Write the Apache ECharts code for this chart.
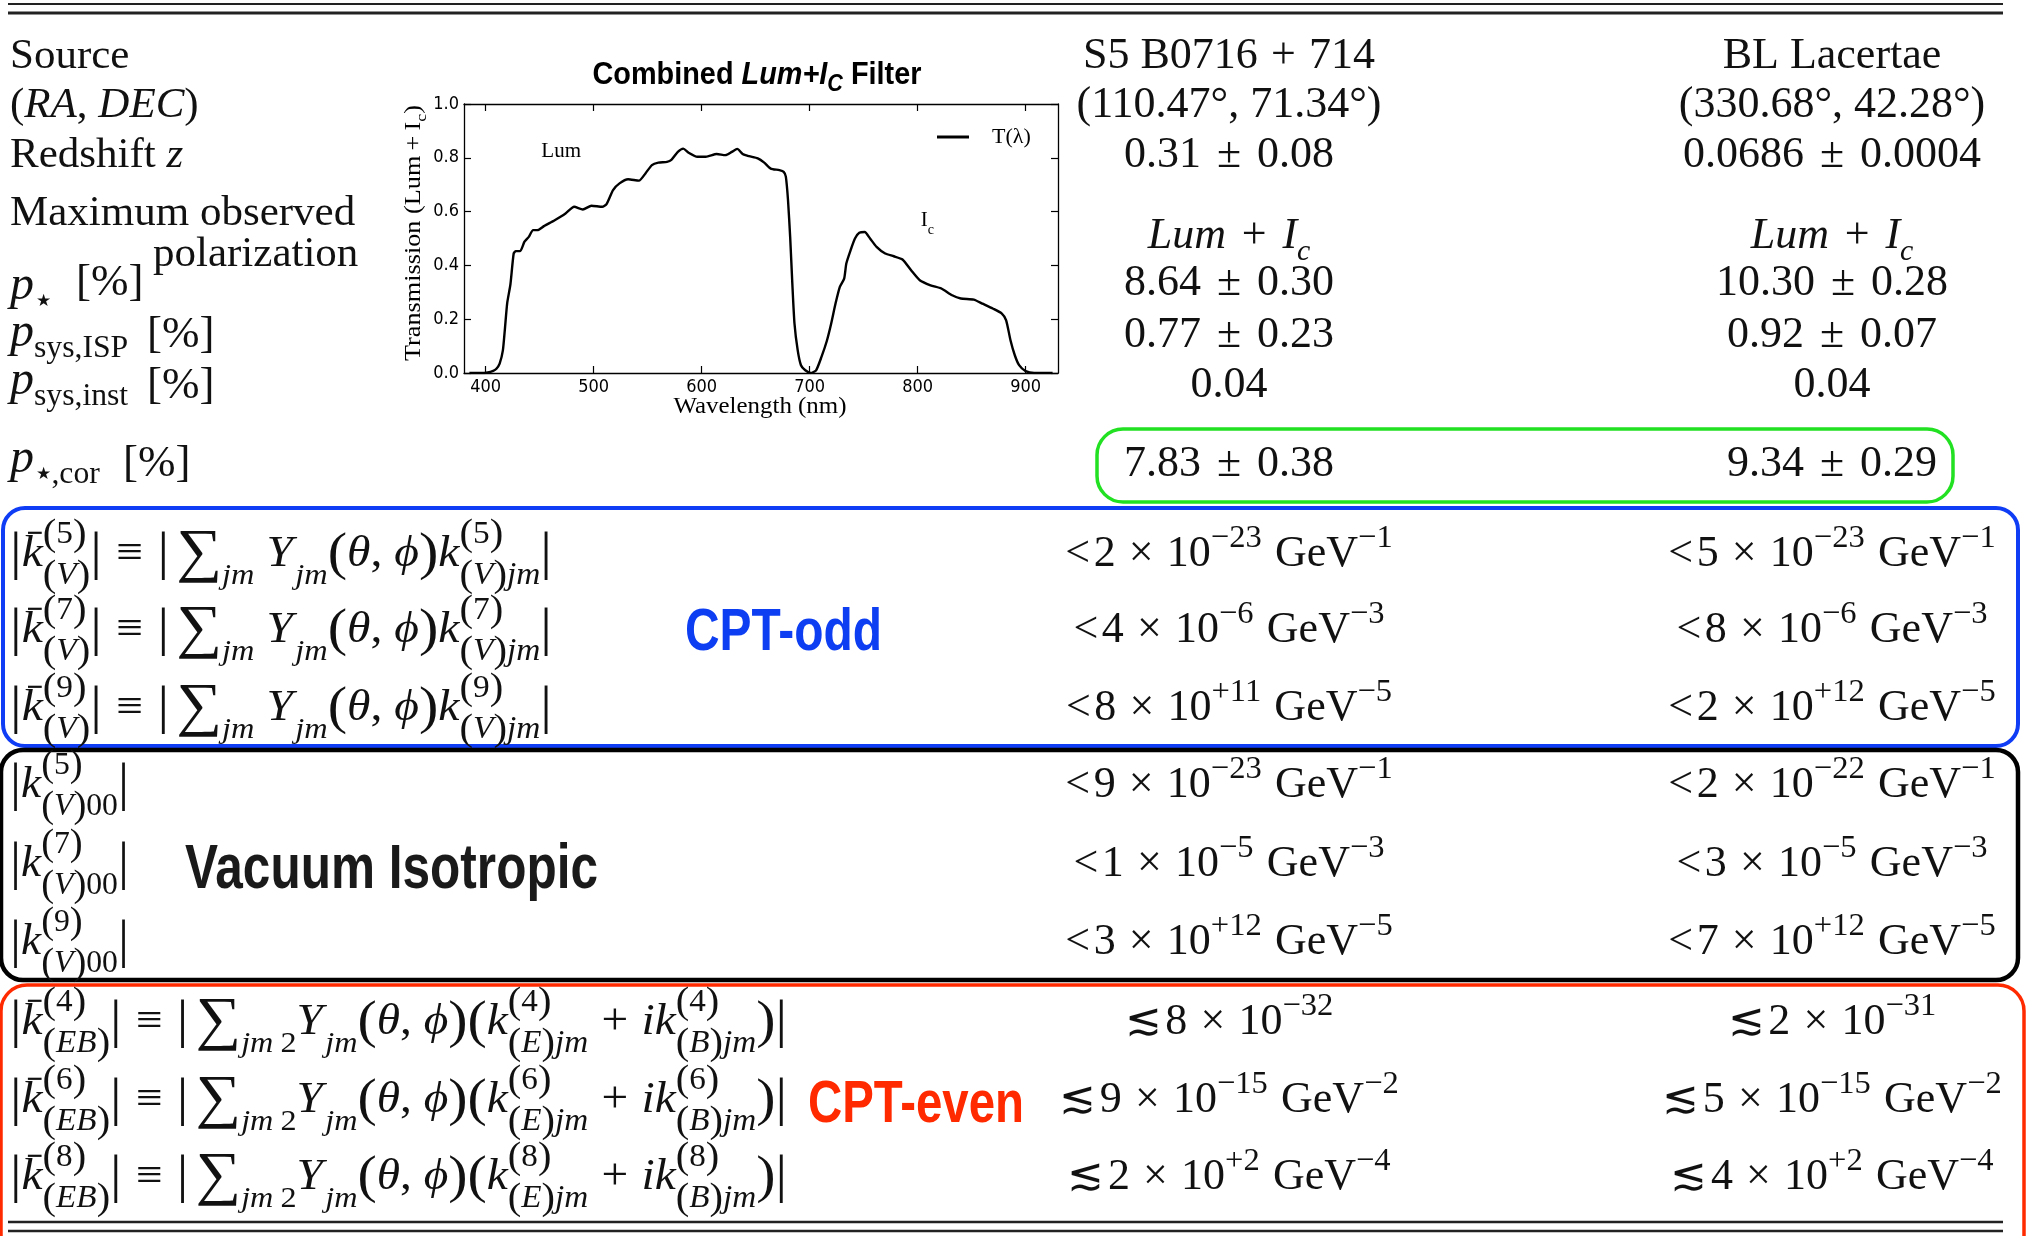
<!DOCTYPE html>
<html>
<head>
<meta charset="utf-8">
<title>Combined Lum+Ic filter and limits</title>
<script src="https://cdn.jsdelivr.net/npm/echarts@6/dist/echarts.min.js"></script>
<style>
  html, body { margin: 0; padding: 0; background: #fff; }
  #main { width: 2028px; height: 1236px; }
</style>
</head>
<body>
<div id="main"></div>
<script>
// transmission curve of the inset
const wavelength = [385, 395, 402, 407, 410, 413, 416, 418, 420, 423, 426, 428, 432, 436, 440, 444, 448, 454, 464, 474,
  482, 490, 498, 508, 512, 518, 524, 532, 542, 548, 554, 560, 568, 572, 578, 583, 588, 596, 604, 614,
  622, 628, 633, 638, 644, 652, 658, 664, 672, 676, 678, 680, 682, 684, 686, 689, 692, 696, 701, 706,
  711, 716, 720, 724, 728, 732, 734, 738, 742, 746, 751, 756, 762, 770, 778, 786, 794, 802, 812, 822,
  832, 840, 852, 860, 870, 878, 882, 886, 890, 894, 900, 908, 925]
const transmission = [0, 0, 0.002, 0.008, 0.016, 0.035, 0.084, 0.17, 0.26, 0.33, 0.444, 0.453, 0.453, 0.488, 0.506, 0.531, 0.531, 0.546, 0.568, 0.593,
  0.618, 0.608, 0.622, 0.618, 0.628, 0.68, 0.705, 0.72, 0.715, 0.742, 0.773, 0.782, 0.785, 0.792, 0.822, 0.834, 0.819, 0.804, 0.804, 0.814,
  0.81, 0.822, 0.833, 0.814, 0.806, 0.798, 0.782, 0.76, 0.754, 0.748, 0.73, 0.643, 0.506, 0.333, 0.184, 0.084, 0.029, 0.01, 0, 0.01,
  0.06, 0.12, 0.184, 0.258, 0.32, 0.351, 0.407, 0.457, 0.5, 0.521, 0.524, 0.5, 0.469, 0.444, 0.434, 0.422, 0.382, 0.345, 0.326, 0.314,
  0.289, 0.277, 0.273, 0.258, 0.239, 0.221, 0.196, 0.122, 0.066, 0.029, 0.007, 0, 0]
const xTicks = [400, 500, 600, 700, 800, 900]

// table values, one entry per source
const sourceNames = ["S5 B0716", "BL Lacertae"]
const raDec = [["110.47", "71.34"], ["330.68", "42.28"]]
const redshift = [["0.31", "0.08"], ["0.0686", "0.0004"]]
const pStar = [["8.64", "0.30"], ["10.30", "0.28"]]
const pSysIsp = [["0.77", "0.23"], ["0.92", "0.07"]]
const pSysInst = ["0.04", "0.04"]
const pStarCor = [["7.83", "0.38"], ["9.34", "0.29"]]
// limits: [relation, mantissa, exponent, GeV power]
const cptOddDims = ["5", "7", "9"]
const cptOddLimits = [
  [["<", "2", "−23", "−1"], ["<", "5", "−23", "−1"]],
  [["<", "4", "−6", "−3"], ["<", "8", "−6", "−3"]],
  [["<", "8", "+11", "−5"], ["<", "2", "+12", "−5"]],
]
const isoDims = ["5", "7", "9"]
const isoLimits = [
  [["<", "9", "−23", "−1"], ["<", "2", "−22", "−1"]],
  [["<", "1", "−5", "−3"], ["<", "3", "−5", "−3"]],
  [["<", "3", "+12", "−5"], ["<", "7", "+12", "−5"]],
]
const cptEvenDims = ["4", "6", "8"]
const cptEvenLimits = [
  [["≲", "8", "−32", null], ["≲", "2", "−31", null]],
  [["≲", "9", "−15", "−2"], ["≲", "5", "−15", "−2"]],
  [["≲", "2", "+2", "−4"], ["≲", "4", "+2", "−4"]],
]

const SERIF = '"Liberation Serif", "DejaVu Serif", serif'
const SANS = '"Liberation Sans", "DejaVu Sans", sans-serif'
const TICK_FONT = '"DejaVu Sans Condensed", "Liberation Sans Narrow", Roboto, sans-serif'
const S = 43   // label text
const V = 44   // value columns
const F = 44   // formulas
const colX = [1229, 1832]

// --- tiny math layout: tokens -> positioned text pieces ---
const ctx = document.createElement("canvas").getContext("2d")
const fontOf = (size, it, bold, fam) =>
  (it ? "italic " : "normal ") + (bold ? "bold " : "normal ") + size.toFixed(2) + "px " + (fam || SERIF)

function lay(tokens, size, fam, bold) {
  let x = 0
  const items = []
  tokens.forEach(tk => {
    if (typeof tk === "string") tk = { t: tk }
    if (tk.sp != null) { x += tk.sp * size; return }
    if (tk.sup || tk.sub) {
      const ss = size * (tk.k || 0.68)
      let w = 0
      if (tk.sup) {
        const b = lay(tk.sup, ss, fam, bold)
        b.items.forEach(it => items.push(Object.assign({}, it, { x: it.x + x, y: it.y - size * (tk.up || 0.42) })))
        w = b.w
      }
      if (tk.sub) {
        const b = lay(tk.sub, ss, fam, bold)
        b.items.forEach(it => items.push(Object.assign({}, it, { x: it.x + x, y: it.y + size * (tk.dn || 0.3) })))
        w = Math.max(w, b.w)
      }
      x += w
      return
    }
    const sz = size * (tk.z || 1)
    const f = fontOf(sz, tk.i, tk.b || bold, fam)
    ctx.font = f
    const w = ctx.measureText(tk.t).width
    items.push({ t: tk.t, x: x, y: (tk.dy || 0) * size, size: sz, font: f })
    if (tk.bar) items.push({ line: true, x1: x + w * 0.3, x2: x + w * 0.95, y: -size * 0.8, size: size })
    x += w
  })
  return { w: x, items: items }
}

function mathText(tokens, o) {
  const b = lay(tokens, o.size || S, o.fam, o.bold)
  const sx = o.fit ? o.fit / b.w : 1
  const w = b.w * sx
  const x0 = o.align === "center" ? -w / 2 : o.align === "right" ? -w : 0
  const color = o.color || "#111"
  const children = b.items.map(it => it.line ? {
    type: "line",
    shape: { x1: x0 + it.x1 * sx, y1: it.y, x2: x0 + it.x2 * sx, y2: it.y },
    style: { stroke: color, lineWidth: Math.max(1.5, it.size * 0.05) },
  } : {
    type: "text",
    x: x0 + it.x * sx,
    y: it.y - 0.3 * it.size,
    scaleX: sx,
    style: { text: it.t, font: it.font, fill: color, align: "left", verticalAlign: "middle" },
  })
  return { type: "group", x: o.x, y: o.y, rotation: o.rotation || 0, silent: true, children: children }
}

const I = t => ({ t: t, i: 1 })
const B = t => ({ t: t, z: 1.22, dy: 0.07 })        // taller delimiters
const SUM = { t: "∑", z: 1.35, dy: 0.1 }
const pm = v => [v[0], { sp: 0.36 }, "±", { sp: 0.36 }, v[1]]
const limit = r => {
  const out = [r[0], { sp: 0.08 }, r[1], { sp: 0.3 }, "×", { sp: 0.3 }, "10", { sup: [r[2]], up: 0.46, k: 0.74 }]
  if (r[3]) out.push({ sp: 0.3 }, "GeV", { sup: [r[3]], up: 0.46, k: 0.74 })
  return out
}
const kStack = (d, sub, bar) => [Object.assign(I("k"), bar ? { bar: 1 } : {}),
  { sup: [B("("), d, B(")")], sub: sub, up: 0.55, dn: 0.4, k: 0.7 }]
const oddFormula = d => [B("|"), ...kStack(d, [B("("), I("V"), B(")")], 1), B("|"), { sp: 0.3 }, "≡", { sp: 0.3 }, B("|"), { sp: 0.15 },
  SUM, { sub: [I("jm")], dn: 0.38 }, { sp: 0.25 }, I("Y"), { sp: 0.05 }, { sub: [I("jm")], dn: 0.38 }, B("("), I("θ"), ", ", I("ϕ"), B(")"),
  ...kStack(d, [B("("), I("V"), B(")"), I("jm")]), B("|")]
const isoFormula = d => [B("|"), ...kStack(d, [B("("), I("V"), B(")"), "00"]), B("|")]
const evenFormula = d => [B("|"), ...kStack(d, [B("("), I("EB"), B(")")], 1), B("|"), { sp: 0.3 }, "≡", { sp: 0.3 }, B("|"), { sp: 0.15 },
  SUM, { sub: [I("jm")], dn: 0.38 }, { sp: 0.15 }, { sub: ["2"], dn: 0.38 }, I("Y"), { sp: 0.05 }, { sub: [I("jm")], dn: 0.38 },
  B("("), I("θ"), ", ", I("ϕ"), B(")"), B("("),
  ...kStack(d, [B("("), I("E"), B(")"), I("jm")]), { sp: 0.28 }, "+", { sp: 0.28 }, I("i"),
  ...kStack(d, [B("("), I("B"), B(")"), I("jm")]), B(")"), B("|")]

const graphics = []
const put = (tokens, o) => graphics.push(mathText(tokens, o))

// rules and boxes
const hline = (y, w) => graphics.push({ type: "line", silent: true, shape: { x1: 8, y1: y, x2: 2003, y2: y }, style: { stroke: "#222", lineWidth: w } })
hline(4, 2.2); hline(13, 3.2); hline(1222, 2.6); hline(1231, 2.6)
const box = (x, y, w, h, r, c, lw) => graphics.push({ type: "rect", silent: true, shape: { x: x, y: y, width: w, height: h, r: r }, style: { fill: "none", stroke: c, lineWidth: lw } })
box(1097, 429, 856, 73, 26, "#22e022", 3.5)
box(3, 508, 2015, 238, 22, "#0f3cf5", 4)
box(1, 750, 2017, 230, 22, "#000", 4.5)
box(1, 985, 2023, 290, 26, "#ff2a00", 3.5)

// left labels
put(["Source"], { x: 10, y: 70 })
put(["(", I("RA"), ", ", I("DEC"), ")"], { x: 10, y: 119 })
put(["Redshift ", I("z")], { x: 10, y: 169 })
put(["Maximum observed"], { x: 10, y: 227 })
put(["polarization"], { x: 153, y: 268 })
put([I("p"), { sp: 0.05 }, { sub: ["★"], k: 0.36, dn: 0.12 }], { x: 10, y: 301, size: 48 })
put(["[%]"], { x: 76, y: 297, size: 45 })
put([I("p"), { sub: ["sys,ISP"], k: 0.66, dn: 0.22 }], { x: 10, y: 348, size: 48 })
put(["[%]"], { x: 147, y: 349, size: 45 })
put([I("p"), { sub: ["sys,inst"], k: 0.66, dn: 0.22 }], { x: 10, y: 396, size: 48 })
put(["[%]"], { x: 147, y: 400, size: 45 })
put([I("p"), { sp: 0.05 }, { sub: ["★"], k: 0.36, dn: 0.12 }, { sub: [",cor"], k: 0.66, dn: 0.22 }], { x: 10, y: 474, size: 48 })
put(["[%]"], { x: 123, y: 478, size: 45 })

// the two source columns
colX.forEach((cx, j) => {
  const c = { x: cx, align: "center", size: V }
  put(j === 0 ? [sourceNames[0], { sp: 0.3 }, "+", { sp: 0.3 }, "714"] : [sourceNames[1]], Object.assign({ y: 70 }, c))
  put(["(" + raDec[j][0] + "°, " + raDec[j][1] + "°)"], Object.assign({ y: 119 }, c))
  put(pm(redshift[j]), Object.assign({ y: 169 }, c))
  put([I("Lum"), { sp: 0.36 }, "+", { sp: 0.36 }, I("I"), { sub: [I("c")], dn: 0.25 }], Object.assign({ y: 250, size: 46 }, c))
  put(pm(pStar[j]), Object.assign({ y: 297 }, c))
  put(pm(pSysIsp[j]), Object.assign({ y: 349 }, c))
  put([pSysInst[j]], Object.assign({ y: 399 }, c))
  put(pm(pStarCor[j]), Object.assign({ y: 478 }, c))
})

// limit rows
const oddY = [568, 644, 722], isoY = [799, 878, 956], evenY = [1036, 1114, 1191]
cptOddDims.forEach((d, i) => {
  put(oddFormula(d), { x: 10, y: oddY[i], size: F, fit: 542 })
  cptOddLimits[i].forEach((r, j) => put(limit(r), { x: colX[j], y: oddY[i], align: "center", size: V }))
})
isoDims.forEach((d, i) => {
  put(isoFormula(d), { x: 10, y: isoY[i], size: F, fit: 119 })
  isoLimits[i].forEach((r, j) => put(limit(r), { x: colX[j], y: isoY[i], align: "center", size: V }))
})
cptEvenDims.forEach((d, i) => {
  put(evenFormula(d), { x: 10, y: evenY[i], size: F, fit: 777 })
  cptEvenLimits[i].forEach((r, j) => put(limit(r), { x: colX[j], y: evenY[i], align: "center", size: V }))
})

// group labels
put(["CPT-odd"], { x: 685, y: 651, size: 60, fam: SANS, bold: 1, fit: 197, color: "#0d3ef2" })
put(["Vacuum Isotropic"], { x: 185, y: 890, size: 63, fam: SANS, bold: 1, fit: 413, color: "#1a1a1a" })
put(["CPT-even"], { x: 808, y: 1123, size: 60, fam: SANS, bold: 1, fit: 216, color: "#ff2a00" })

// inset title and axis names
put(["Combined ", { t: "Lum+I", i: 1 }, { sub: [{ t: "C", i: 1 }], k: 0.75, dn: 0.22 }, " Filter"],
  { x: 757, y: 85, size: 32, fam: SANS, bold: 1, fit: 329, align: "center", color: "#000" })
put(["Wavelength (nm)"], { x: 760, y: 414, size: 24, fit: 173, align: "center", color: "#000" })
put(["Transmission (Lum", { sp: 0.2 }, "+", { sp: 0.2 }, "I", { sub: ["c"], dn: 0.25 }, ")"],
  { x: 421, y: 233, size: 23, fit: 256, align: "center", rotation: Math.PI / 2, color: "#000" })

const frameAxis = (pos, labels) => ({
  type: "value", position: pos, min: 380, max: 930,
  axisLine: { show: true, onZero: false, lineStyle: { color: "#000", width: 1.3 } },
  axisTick: { show: true, inside: true, length: 7, customValues: xTicks, lineStyle: { color: "#000", width: 1.2 } },
  axisLabel: { show: labels, customValues: xTicks, color: "#000", fontSize: 18, fontFamily: TICK_FONT, margin: 5 },
  splitLine: { show: false },
})
const frameYAxis = (pos, labels) => ({
  type: "value", position: pos, min: 0, max: 1, interval: 0.2,
  axisLine: { show: true, onZero: false, lineStyle: { color: "#000", width: 1.3 } },
  axisTick: { show: true, inside: true, length: 7, lineStyle: { color: "#000", width: 1.2 } },
  axisLabel: { show: labels, color: "#000", fontSize: 18, fontFamily: TICK_FONT, margin: 5, formatter: v => v.toFixed(1) },
  splitLine: { show: false },
})

const chart = echarts.init(document.getElementById("main"))
chart.setOption({
  backgroundColor: "#fff",
  animation: false,
  grid: { left: 464, top: 104, width: 594, height: 269 },
  legend: {
    data: [{ name: "T(λ)", icon: "rect" }],
    left: 932, top: 121, itemWidth: 32, itemHeight: 3,
    textStyle: { fontFamily: SERIF, fontSize: 22, color: "#000", padding: [0, 0, 0, 18] },
  },
  xAxis: [frameAxis("bottom", true), frameAxis("top", false)],
  yAxis: [frameYAxis("left", true), frameYAxis("right", false)],
  series: [{
    name: "T(λ)",
    type: "line",
    data: wavelength.map((w, i) => [w, transmission[i]]),
    showSymbol: false,
    smooth: 0.2,
    color: "#000",
    lineStyle: { color: "#000", width: 2.4 },
    markPoint: {
      symbol: "circle", symbolSize: 1, itemStyle: { color: "rgba(0,0,0,0)" },
      label: { show: true, position: "inside", color: "#000", fontFamily: SERIF, fontSize: 21 },
      data: [
        { coord: [470, 0.822], label: { formatter: "Lum" } },
        { coord: [809, 0.567], label: { formatter: "{a|I}{b|c}", rich: { a: { fontFamily: SERIF, fontSize: 21, color: "#000" }, b: { fontFamily: SERIF, fontSize: 14, color: "#000", verticalAlign: "bottom", padding: [0, 0, -6, 0] } } } },
      ],
    },
  }],
  graphic: graphics,
})
</script>
</body>
</html>
